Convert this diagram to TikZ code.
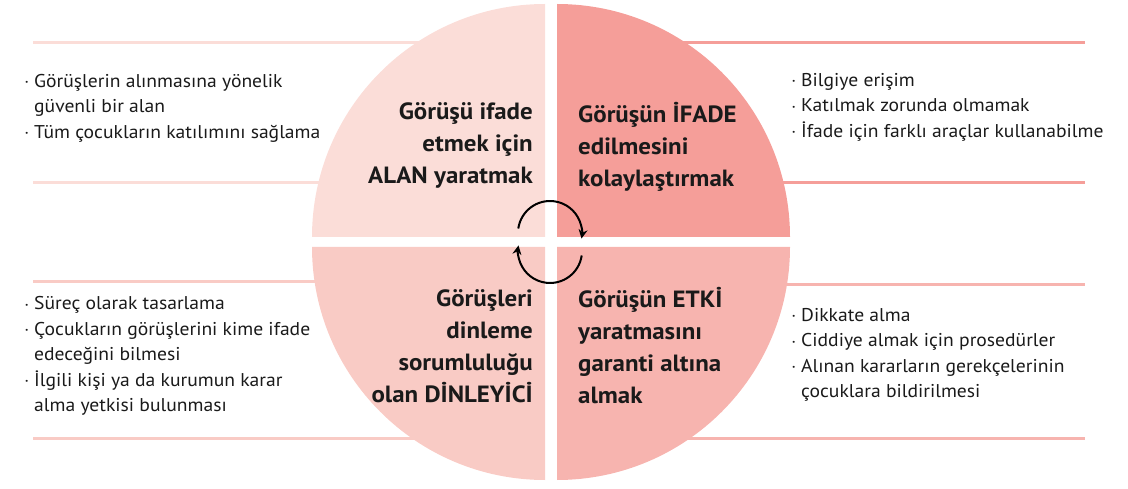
\documentclass[tikz,border=0pt]{standalone}
\usepackage{fontspec}
\setmainfont[FakeStretch=1.06]{PT Sans}
\usetikzlibrary{arrows.meta}
\definecolor{qtl}{HTML}{FBDDD8}
\definecolor{qtr}{HTML}{F59E99}
\definecolor{qbl}{HTML}{F9CBC5}
\definecolor{qbr}{HTML}{F7B4AF}
\definecolor{txt}{HTML}{1A1A1A}
\newcommand{\itm}{\makebox[9pt][l]{\raisebox{2.5pt}{\scriptsize\textbullet}}}
\newcommand{\ind}{\hspace*{9pt}}
\tikzset{
  quadtext/.style={inner sep=0pt, text=txt, font=\bfseries\fontsize{23.5}{32}\selectfont},
  bullets/.style={inner sep=0pt, text=txt, align=left, font=\fontsize{18.5}{25.5}\selectfont},
  rule/.style={line width=3pt}
}
\begin{document}
\begin{tikzpicture}[x=1pt,y=1pt]
            \useasboundingbox (0,0) rectangle (1128,488);
            % rules behind the circle
            \draw[rule, qtl] (33,445) -- (545,445);
            \draw[rule, qtl] (33,305) -- (545,305);
            \draw[rule, qbl] (33,206) -- (545,206);
            \draw[rule, qbl] (33,50) -- (545,50);
            \draw[rule, qtr] (557,445) -- (1085,445);
            \draw[rule, qtr] (557,305) -- (1085,305);
            \draw[rule, qbr] (557,203) -- (1085,203);
            \draw[rule, qbr] (557,50) -- (1085,50);
            % the four quarters
            \fill[qtl] (545,251) -- ++(-233,0) arc[start angle=180, end angle=90, radius=233] -- cycle;
            \fill[qtr] (557,251) -- ++(0,233) arc[start angle=90, end angle=0, radius=233] -- cycle;
            \fill[qbl] (545,241) -- ++(-233,0) arc[start angle=180, end angle=270, radius=233] -- cycle;
            \fill[qbr] (557,241) -- ++(0,-233) arc[start angle=270, end angle=360, radius=233] -- cycle;
            % cycle arrows
            \draw[line width=2pt, -{Stealth[length=9pt, width=9pt]}] (550,255) ++(172:32) arc[start angle=172, end angle=-10, radius=32];
            \draw[line width=2pt, -{Stealth[length=9pt, width=9pt]}] (550,237) ++(-8:32) arc[start angle=-8, end angle=-190, radius=32];
            % quarter titles
            \node[quadtext, anchor=east, align=right] (space) at (533,343) {Görüşü ifade\\etmek için\\ALAN yaratmak};
            \node[quadtext, anchor=west, align=left] (voice) at (578,341) {Görüşün İFADE\\edilmesini\\kolaylaştırmak};
            \node[quadtext, anchor=east, align=right] (audience) at (533,142) {Görüşleri\\dinleme\\sorumluluğu\\olan DİNLEYİCİ};
            \node[quadtext, anchor=west, align=left] (influence) at (578,142) {Görüşün ETKİ\\yaratmasını\\garanti altına\\almak};
            % bullet lists
            \node[bullets, anchor=west] (spacelist) at (25,380) {\itm Görüşlerin alınmasına yönelik\\\ind güvenli bir alan\\\itm Tüm çocukların katılımını sağlama};
            \node[bullets, anchor=west] (voicelist) at (792,381) {\itm Bilgiye erişim\\\itm Katılmak zorunda olmamak\\\itm İfade için farklı araçlar kullanabilme};
            \node[bullets, anchor=west] (audiencelist) at (25,132) {\itm Süreç olarak tasarlama\\\itm Çocukların görüşlerini kime ifade\\\ind edeceğini bilmesi\\\itm İlgili kişi ya da kurumun karar\\\ind alma yetkisi bulunması};
            \node[bullets, anchor=west] (influencelist) at (792,133) {\itm Dikkate alma\\\itm Ciddiye almak için prosedürler\\\itm Alınan kararların gerekçelerinin\\\ind çocuklara bildirilmesi};
        \end{tikzpicture}
\end{document}
